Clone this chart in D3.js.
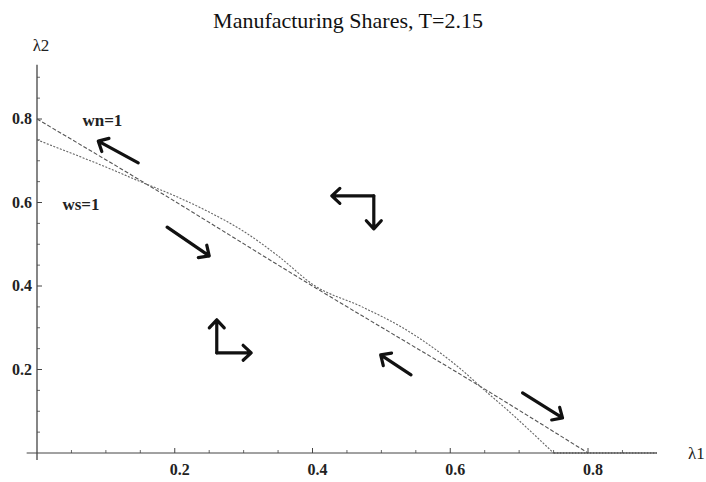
<!DOCTYPE html>
<html><head><meta charset="utf-8">
<script src="https://cdn.jsdelivr.net/npm/d3@7"></script>
<style>body{margin:0;background:#fff}svg{display:block}</style>
</head><body><svg id="c" width="706" height="482"></svg>
<script>
// wn = 1 curve (dashed)
const wnL1 = [0, 0.15, 0.40, 0.65, 0.80];
const wnL2 = [0.80, 0.653, 0.40, 0.153, 0];
// ws = 1 curve (dotted)
const wsL1 = [0, 0.05, 0.10, 0.15, 0.20, 0.25, 0.30, 0.35, 0.402, 0.472, 0.531, 0.577, 0.616, 0.65, 0.685, 0.718, 0.75];
const wsL2 = [0.75, 0.718, 0.685, 0.65, 0.616, 0.577, 0.531, 0.472, 0.402, 0.35, 0.30, 0.25, 0.20, 0.15, 0.10, 0.05, 0];
// both curves continue along λ2 = 0 to the plot edge
const plotEndL1 = 0.9;
const xTicks = [0.2, 0.4, 0.6, 0.8];
const yTicks = [0.2, 0.4, 0.6, 0.8];
const minorTicks = [0.05, 0.1, 0.15, 0.25, 0.3, 0.35, 0.45, 0.5, 0.55, 0.65, 0.7, 0.75, 0.85];
// direction arrows: [tail λ1, tail λ2, head λ1, head λ2]
const arrows = [
  [0.147, 0.695, 0.089, 0.747],
  [0.189, 0.541, 0.250, 0.472],
  [0.489, 0.616, 0.428, 0.616],
  [0.489, 0.616, 0.489, 0.537],
  [0.261, 0.240, 0.261, 0.319],
  [0.261, 0.240, 0.311, 0.240],
  [0.543, 0.187, 0.499, 0.235],
  [0.705, 0.144, 0.763, 0.084]
];
const curveLabels = [["wn=1", 0.066, 0.783], ["ws=1", 0.037, 0.583]];

const svg = d3.select("#c");
const x = d3.scaleLinear().domain([0, 0.8]).range([37, 588]);
const y = d3.scaleLinear().domain([0, 0.8]).range([453, 119]);
const axisCol = "#444";
const font = "'Liberation Serif', 'Times New Roman', serif";

// title
svg.append("text").attr("x", 348).attr("y", 28).attr("text-anchor", "middle")
  .attr("font-family", font).attr("font-size", 22).attr("fill", "#111")
  .text("Manufacturing Shares, T=2.15");

// axes lines
svg.append("line").attr("x1", x(-0.015)).attr("x2", x(plotEndL1)).attr("y1", y(0)).attr("y2", y(0))
  .attr("stroke", axisCol).attr("stroke-width", 1);
svg.append("line").attr("x1", x(0)).attr("x2", x(0)).attr("y1", y(-0.017)).attr("y2", y(0.93))
  .attr("stroke", axisCol).attr("stroke-width", 1.3);

// ticks
const gx = svg.append("g");
gx.selectAll("line.maj").data(xTicks).join("line")
  .attr("x1", d => x(d)).attr("x2", d => x(d)).attr("y1", y(0)).attr("y2", y(0) - 5)
  .attr("stroke", axisCol);
gx.selectAll("line.min").data(minorTicks).join("line")
  .attr("x1", d => x(d)).attr("x2", d => x(d)).attr("y1", y(0)).attr("y2", y(0) - 3)
  .attr("stroke", axisCol).attr("stroke-width", 0.8);
gx.selectAll("text").data(xTicks).join("text")
  .attr("x", d => x(d) + 5).attr("y", y(0) + 22).attr("text-anchor", "middle")
  .attr("font-family", font).attr("font-size", 16).attr("font-weight", "bold").attr("fill", "#222")
  .text(d => d3.format(".1f")(d));

const gy = svg.append("g");
gy.selectAll("line.maj").data(yTicks).join("line")
  .attr("x1", x(0)).attr("x2", x(0) + 5).attr("y1", d => y(d)).attr("y2", d => y(d))
  .attr("stroke", axisCol);
gy.selectAll("line.min").data(minorTicks.concat([0.9])).join("line")
  .attr("x1", x(0)).attr("x2", x(0) + 3).attr("y1", d => y(d)).attr("y2", d => y(d))
  .attr("stroke", axisCol).attr("stroke-width", 0.8);
gy.selectAll("text").data(yTicks).join("text")
  .attr("x", x(0) - 5).attr("y", d => y(d) + 5).attr("text-anchor", "end")
  .attr("font-family", font).attr("font-size", 16).attr("font-weight", "bold").attr("fill", "#222")
  .text(d => d3.format(".1f")(d));

// axis labels
svg.append("text").attr("x", 41).attr("y", 51).attr("text-anchor", "middle")
  .attr("font-family", font).attr("font-size", 17).attr("fill", "#222").text("λ2");
svg.append("text").attr("x", 688).attr("y", y(0) + 6)
  .attr("font-family", font).attr("font-size", 17).attr("fill", "#222").text("λ1");

// curves
const line = d3.line().x(d => x(d[0])).y(d => y(d[1])).curve(d3.curveMonotoneX);
const flat = d3.line().x(d => x(d[0])).y(d => y(d[1]));
const wnPts = wnL1.map((v, i) => [v, wnL2[i]]);
const wsPts = wsL1.map((v, i) => [v, wsL2[i]]);
svg.append("path").attr("d", line(wnPts)).attr("fill", "none")
  .attr("stroke", "#555").attr("stroke-width", 1.1).attr("stroke-dasharray", "4,2");
svg.append("path").attr("d", line(wsPts)).attr("fill", "none")
  .attr("stroke", "#666").attr("stroke-width", 1.1).attr("stroke-dasharray", "2,1.5");
svg.append("path").attr("d", flat([[wsL1[wsL1.length - 1], 0], [plotEndL1, 0]])).attr("fill", "none")
  .attr("stroke", "#555").attr("stroke-width", 1.3).attr("stroke-dasharray", "2,1");

// labels
svg.selectAll("text.cl").data(curveLabels).join("text").attr("class", "cl")
  .attr("x", d => x(d[1])).attr("y", d => y(d[2]))
  .attr("font-family", font).attr("font-size", 17).attr("font-weight", "bold").attr("fill", "#222")
  .text(d => d[0]);

// arrows
const ga = svg.append("g").attr("stroke", "#111").attr("stroke-width", 3.2)
  .attr("stroke-linecap", "round").attr("stroke-linejoin", "round").attr("fill", "none");
arrows.forEach(a => {
  const x1 = x(a[0]), y1 = y(a[1]), x2 = x(a[2]), y2 = y(a[3]);
  const ang = Math.atan2(y2 - y1, x2 - x1);
  const h = 11, spread = Math.PI / 4.2;
  ga.append("path").attr("d",
    `M${x1},${y1}L${x2},${y2}` +
    `M${x2 - h * Math.cos(ang - spread)},${y2 - h * Math.sin(ang - spread)}L${x2},${y2}` +
    `L${x2 - h * Math.cos(ang + spread)},${y2 - h * Math.sin(ang + spread)}`);
});
</script></body></html>
